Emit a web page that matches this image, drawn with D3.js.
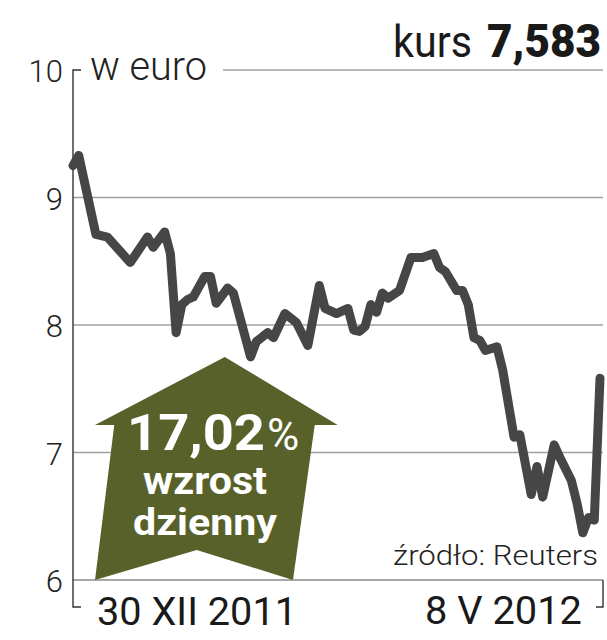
<!DOCTYPE html>
<html>
<head>
<meta charset="utf-8">
<script src="https://cdn.jsdelivr.net/npm/d3@7"></script>
<style>
  html, body { margin: 0; padding: 0; background: #fff; }
  svg { display: block; }
  text { font-family: Roboto, "Noto Sans", "DejaVu Sans", sans-serif; }
</style>
</head>
<body>
<svg id="chart" width="607" height="640"></svg>
<script>
// ---- data ----
const startLabel = "30 XII 2011";
const endLabel = "8 V 2012";
const yTicks = [6, 7, 8, 9, 10];
const tradingDay = [0,1,4,6,10,13,14,16,17,18,19,20,21,23,24,25,27,28,31,32,34,35,37,39,41,43,44,46,48,49,50,51,52,53,54,55,57,59,61,63,64,65,67,68,69,70,71,72,74,75,77,78,80,81,82,84,85,87,88,89,90,91,92];
const rate = [9.25,9.33,8.71,8.69,8.49,8.69,8.61,8.73,8.56,7.94,8.16,8.20,8.22,8.38,8.38,8.17,8.29,8.25,7.75,7.87,7.94,7.90,8.09,8.02,7.84,8.31,8.13,8.09,8.13,7.96,7.95,7.99,8.16,8.10,8.25,8.21,8.27,8.53,8.53,8.56,8.45,8.42,8.27,8.27,8.16,7.90,7.88,7.80,7.83,7.65,7.12,7.14,6.67,6.89,6.65,7.06,6.96,6.78,6.60,6.37,6.49,6.47,7.583];
const lastDay = 92;
const kursLabel = "kurs";
const kursValue = "7,583";
const unitLabel = "w euro";
const changeValue = "17,02";
const changeWords = ["wzrost", "dzienny"];
const sourceLabel = "źródło: Reuters";

// ---- layout ----
const svg = d3.select("#chart");
const x = d3.scaleLinear().domain([0, lastDay]).range([73, 600]);
const y = d3.scaleLinear().domain([6, 10]).range([580, 70]);
const gridRight = 603;

const g = svg.append("g");
yTicks.forEach(t => {
  g.append("line")
    .attr("x1", t === 10 ? 223 : x(0)).attr("x2", gridRight)
    .attr("y1", y(t)).attr("y2", y(t))
    .attr("stroke", t === 6 ? "#8a8a8a" : "#a0a0a0")
    .attr("stroke-width", 1.6);
});

// left axis bracket
g.append("path")
  .attr("d", `M81,${y(10)} H${x(0)} V607 H81`)
  .attr("fill", "none").attr("stroke", "#333").attr("stroke-width", 1.4);
// right bottom bracket
g.append("path")
  .attr("d", `M${gridRight},${y(6)} V607 H596`)
  .attr("fill", "none").attr("stroke", "#333").attr("stroke-width", 1.4);

// y tick labels
g.selectAll("text.ytick").data(yTicks).enter().append("text")
  .attr("class", "ytick")
  .attr("x", 63).attr("y", d => y(d) + 12)
  .attr("text-anchor", "end")
  .attr("font-size", 31).attr("font-weight", 300)
  .attr("fill", "#222")
  .text(d => d);

// unit label
g.append("text").attr("x", 90).attr("y", 80)
  .attr("font-size", 40).attr("font-weight", 300).attr("fill", "#222")
  .attr("textLength", 117).attr("lengthAdjust", "spacingAndGlyphs")
  .text(unitLabel);

// header
g.append("text").attr("x", 393).attr("y", 57)
  .attr("font-size", 44).attr("font-weight", 400).attr("fill", "#1a1a1a")
  .attr("textLength", 79).attr("lengthAdjust", "spacingAndGlyphs")
  .text(kursLabel);
g.append("text").attr("x", 487).attr("y", 57)
  .attr("font-size", 46).attr("font-weight", 900).attr("fill", "#1a1a1a")
  .attr("textLength", 114).attr("lengthAdjust", "spacingAndGlyphs")
  .text(kursValue);

// arrow annotation (in data space)
const arrowPts = [
  [26.5, 7.75], [46.2, 7.216], [42.2, 7.216], [38.4, 6.0],
  [21.6, 6.235], [3.84, 6.0], [7.2, 7.216], [3.84, 7.216]
];
g.append("path")
  .attr("d", d3.line().x(d => x(d[0])).y(d => y(d[1]))(arrowPts) + "Z")
  .attr("fill", "#58612a");

const t1 = g.append("text").attr("x", 127).attr("y", 450)
  .attr("fill", "#fff").attr("font-weight", 700).attr("font-size", 50);
t1.append("tspan").attr("textLength", 138).attr("lengthAdjust", "spacingAndGlyphs").text(changeValue);
t1.append("tspan").attr("font-weight", 400).attr("font-size", 44).attr("dx", 2).text("%");

g.append("text").attr("x", 143).attr("y", 494)
  .attr("fill", "#fff").attr("font-weight", 700).attr("font-size", 38)
  .attr("textLength", 124).attr("lengthAdjust", "spacingAndGlyphs")
  .text(changeWords[0]);
g.append("text").attr("x", 133).attr("y", 535)
  .attr("fill", "#fff").attr("font-weight", 700).attr("font-size", 36)
  .attr("textLength", 144).attr("lengthAdjust", "spacingAndGlyphs")
  .text(changeWords[1]);

// line
const series = tradingDay.map((d, i) => [d, rate[i]]);
g.append("path")
  .datum(series)
  .attr("d", d3.line().x(d => x(d[0])).y(d => y(d[1])))
  .attr("fill", "none")
  .attr("stroke", "#464646")
  .attr("stroke-width", 9)
  .attr("stroke-linejoin", "round")
  .attr("stroke-linecap", "round");

// source
g.append("text").attr("x", 393).attr("y", 565)
  .attr("font-size", 28).attr("font-weight", 300).attr("fill", "#222")
  .attr("textLength", 205).attr("lengthAdjust", "spacingAndGlyphs")
  .text(sourceLabel);

// x labels
g.append("text").attr("x", 97).attr("y", 625)
  .attr("font-size", 39).attr("font-weight", 400).attr("fill", "#1a1a1a")
  .attr("textLength", 200).attr("lengthAdjust", "spacingAndGlyphs")
  .text(startLabel);
g.append("text").attr("x", 425).attr("y", 624)
  .attr("font-size", 39).attr("font-weight", 400).attr("fill", "#1a1a1a")
  .attr("textLength", 157).attr("lengthAdjust", "spacingAndGlyphs")
  .text(endLabel);
</script>
</body>
</html>
